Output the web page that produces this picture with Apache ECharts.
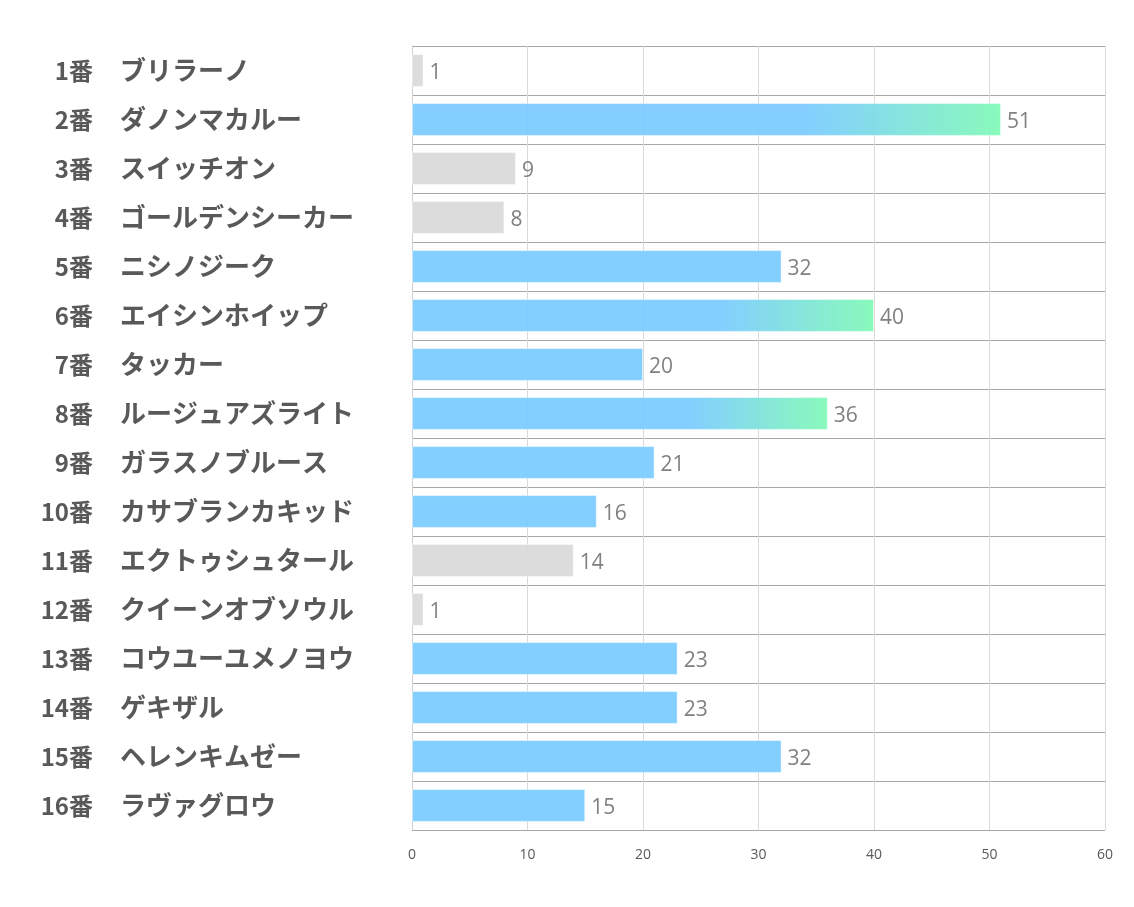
<!DOCTYPE html>
<html>
<head>
<meta charset="utf-8">
<script src="https://cdn.jsdelivr.net/npm/echarts@6/dist/echarts.min.js"></script>
<style>
html,body{margin:0;padding:0;background:#fff;}
#c{width:1134px;height:907px;}
</style>
</head>
<body>
<div id="c"></div>
<script>
const numbers = ['1番','2番','3番','4番','5番','6番','7番','8番','9番','10番','11番','12番','13番','14番','15番','16番'];
const names = ['ブリラーノ','ダノンマカルー','スイッチオン','ゴールデンシーカー','ニシノジーク','エイシンホイップ','タッカー','ルージュアズライト','ガラスノブルース','カサブランカキッド','エクトゥシュタール','クイーンオブソウル','コウユーユメノヨウ','ゲキザル','ヘレンキムゼー','ラヴァグロウ'];
const values = [1,51,9,8,32,40,20,36,21,16,14,1,23,23,32,15];
// group: 0 = gray, 1 = blue, 2 = blue->green gradient
const groups = [0,2,0,0,1,2,1,2,1,1,0,0,1,1,1,1];
const xTicks = [0,10,20,30,40,50,60];

function colorFor(g){
  if (g === 0) return '#d9d9d9';
  if (g === 1) return '#7acbff';
  return new echarts.graphic.LinearGradient(0,0,1,0,[
    {offset:0,color:'#7acbff'},
    {offset:0.67,color:'#7acbff'},
    {offset:1,color:'#80f9b6'}
  ]);
}

const labelFont = {fontWeight:'bold',color:'#595959',fontFamily:'Noto Sans CJK JP'};

const chart = echarts.init(document.getElementById('c'));
chart.setOption({
  animation:false,
  grid:{left:412,right:29,top:46,bottom:77,containLabel:false},
  xAxis:{
    type:'value',min:xTicks[0],max:xTicks[xTicks.length-1],interval:10,
    axisLine:{show:false},axisTick:{show:false},
    axisLabel:{color:'#595959',fontSize:14,fontFamily:'Open Sans, sans-serif',margin:18},
    splitLine:{show:true,lineStyle:{color:'#d9d9d9',width:1}}
  },
  yAxis:[{
    type:'category',data:numbers,inverse:true,
    axisLine:{show:true,lineStyle:{color:'#d0d0d0'}},
    axisTick:{show:false},
    splitLine:{show:true,lineStyle:{color:'#a6a6a6',width:1}},
    axisLabel:Object.assign({margin:319,align:'right',fontSize:24},labelFont)
  },{
    type:'category',data:names,inverse:true,position:'left',
    axisLine:{show:false},axisTick:{show:false},splitLine:{show:false},
    axisLabel:Object.assign({margin:292,align:'left',fontSize:26},labelFont)
  }],
  series:[{
    type:'bar',
    yAxisIndex:0,
    data:values.map((v,i)=>({value:v,itemStyle:{color:colorFor(groups[i])}})),
    barWidth:'67%',
    itemStyle:{opacity:0.93,borderColor:'rgba(255,255,255,0.5)',borderWidth:1},
    label:{show:true,position:'right',distance:6,offset:[0,3],color:'#767676',fontSize:21,fontFamily:'Open Sans, sans-serif'}
  }]
});
</script>
</body>
</html>
